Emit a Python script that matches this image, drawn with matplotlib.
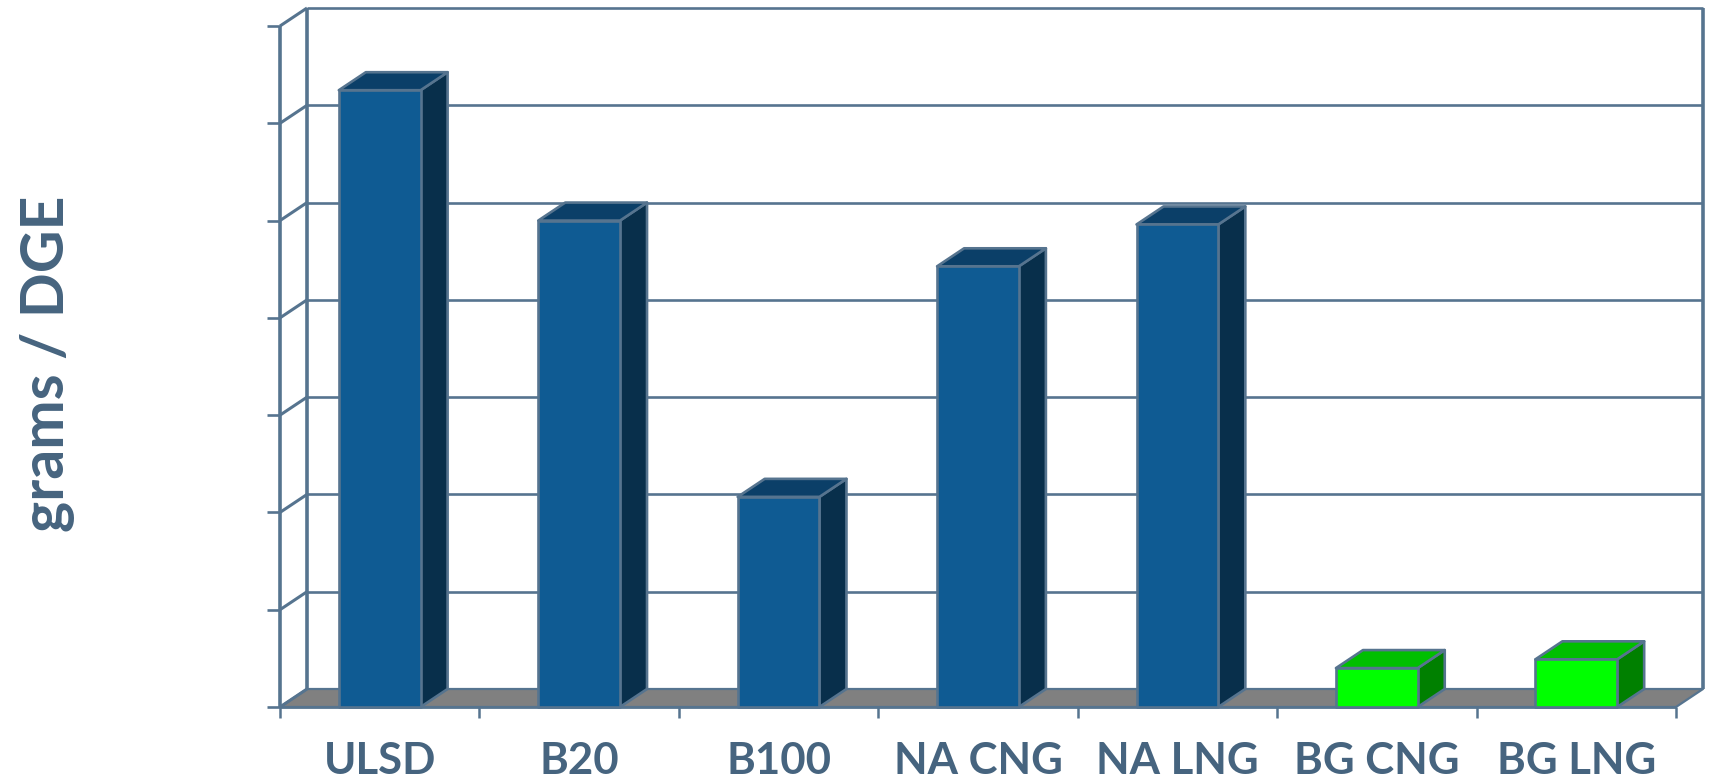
import matplotlib
matplotlib.use("Agg")
import matplotlib.pyplot as plt
from matplotlib.patches import Polygon

categories = ["ULSD", "B20", "B100", "NA CNG", "NA LNG", "BG CNG", "BG LNG"]
values = [6.34, 5.0, 2.16, 4.53, 4.96, 0.40, 0.49]
y_ticks = [0, 1, 2, 3, 4, 5, 6, 7]
y_title = "grams / DGE"

W, H = 1709, 783
LEFT, RIGHT, BOTTOM, TOP = 280, 1676, 707, 26
DX_PX, DY_PX = 27, 18
LINE = "#56748f"
TEXT = "#46647f"
FLOOR = "#808080"
BLUE = ("#0f5b93", "#0b3f68", "#082f4b")
GREEN = ("#00ff00", "#00bf00", "#008000")
BAR_W = 0.41

fig = plt.figure(figsize=(W / 100, H / 100), dpi=100)
ax = fig.add_axes([LEFT / W, 1 - BOTTOM / H, (RIGHT - LEFT) / W, (BOTTOM - TOP) / H])
n = len(categories)
ax.set_xlim(0, n)
ax.set_ylim(0, y_ticks[-1])
ax.axis("off")
dx = DX_PX * n / (RIGHT - LEFT)
dy = DY_PX * y_ticks[-1] / (BOTTOM - TOP)


def poly(pts, fc, z, ec=LINE, lw=1.9):
    ax.add_patch(Polygon(pts, closed=True, fc=fc, ec=ec, lw=lw, zorder=z,
                         clip_on=False, joinstyle="round"))


def line(xs, ys, z=2, lw=1.8):
    ax.plot(xs, ys, color=LINE, lw=lw, zorder=z, clip_on=False,
            solid_capstyle="butt")


poly([(0, 0), (n, 0), (n + dx, dy), (dx, dy)], FLOOR, 1, lw=1.6)
for t in y_ticks:
    if t > 0:
        line([dx, n + dx], [t + dy, t + dy], lw=1.9)
    line([0, dx], [t, t + dy], lw=2.2)
    line([-13 * n / (RIGHT - LEFT), 0], [t, t], lw=1.9)
line([0, 0], [0, y_ticks[-1]], lw=2.6)
line([dx, dx], [0 + dy, y_ticks[-1] + dy], lw=2.6)
line([n + dx, n + dx], [0 + dy, y_ticks[-1] + dy], lw=2.6)
line([0, n], [0, 0], lw=2.0)

tick_len = 11 * y_ticks[-1] / (BOTTOM - TOP)
for i in range(n + 1):
    line([i, i], [0, -tick_len], lw=1.8)

for i, (c, v) in enumerate(zip(categories, values)):
    l, r = i + 0.5 - BAR_W / 2, i + 0.5 + BAR_W / 2
    front, top, side = GREEN if c.startswith("BG") else BLUE
    poly([(r, 0), (r + dx, dy), (r + dx, v + dy), (r, v)], side, 5)
    poly([(l, v), (r, v), (r + dx, v + dy), (l + dx, v + dy)], top, 5)
    poly([(l, 0), (r, 0), (r, v), (l, v)], front, 6)

for i, c in enumerate(categories):
    ax.annotate(c, (i + 0.5, 0), xytext=(0, -54), textcoords="offset pixels",
                ha="center", va="center", color=TEXT, fontsize=31.5,
                fontweight="bold", family="Lato", annotation_clip=False)

fig.text(48 / W, 1 - 364 / H, y_title, rotation=90, ha="center", va="center",
         color=TEXT, fontsize=42.5, fontweight="bold", family="Lato")
fig.savefig("out.png", dpi=100)
